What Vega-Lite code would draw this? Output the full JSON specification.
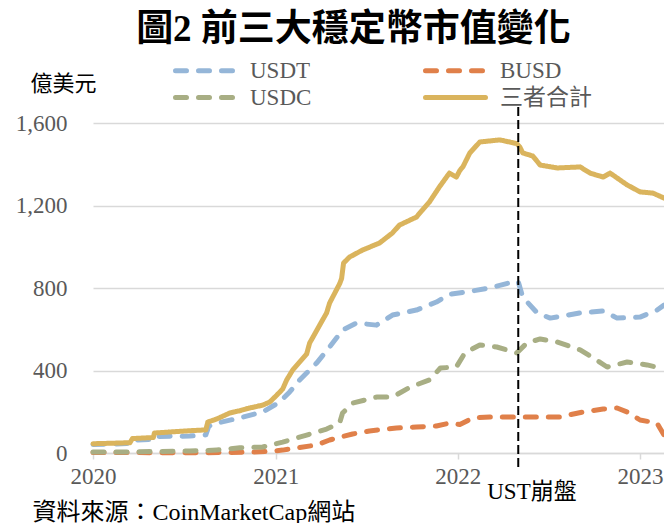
{
  "$schema": "https://vega.github.io/schema/vega-lite/v6.json",
  "width": 571,
  "height": 330,
  "autosize": "none",
  "padding": {"left": 93, "top": 123, "right": 0, "bottom": 70},
  "config": {
    "view": {"stroke": null},
    "font": "Liberation Serif, Noto Sans CJK TC",
    "legend": {
      "orient": "none",
      "legendX": 80,
      "legendY": -65,
      "columns": 2,
      "columnPadding": 103,
      "rowPadding": 2,
      "symbolType": "M-3,0H3",
      "symbolSize": 400,
      "symbolStrokeWidth": 5,
      "symbolOffset": 20,
      "labelFontSize": 23,
      "labelColor": "#595959",
      "labelOffset": 32,
      "labelFont": "Liberation Serif, Noto Sans CJK TC",
      "padding": 0
    }
  },
  "title": {
    "text": "圖2 前三大穩定幣市值變化",
    "fontSize": 37,
    "fontWeight": "bold",
    "color": "black",
    "font": "Liberation Serif, Noto Sans CJK TC",
    "anchor": "middle",
    "frame": "group",
    "dx": -25,
    "dy": -5
  },
  "layer": [
    {
      "data": {"values": [
        {"series":"BUSD","date":"2020-01-01","v":2},{"series":"BUSD","date":"2020-04-01","v":2},{"series":"BUSD","date":"2020-07-01","v":1},{"series":"BUSD","date":"2020-09-15","v":2},{"series":"BUSD","date":"2020-11-15","v":4},{"series":"BUSD","date":"2020-12-20","v":8},{"series":"BUSD","date":"2021-01-15","v":14},{"series":"BUSD","date":"2021-02-12","v":24},{"series":"BUSD","date":"2021-03-24","v":39},{"series":"BUSD","date":"2021-04-19","v":63},{"series":"BUSD","date":"2021-05-15","v":80},{"series":"BUSD","date":"2021-06-04","v":92},{"series":"BUSD","date":"2021-07-08","v":107},{"series":"BUSD","date":"2021-08-31","v":121},{"series":"BUSD","date":"2021-10-10","v":126},{"series":"BUSD","date":"2021-11-19","v":131},{"series":"BUSD","date":"2021-12-15","v":145},{"series":"BUSD","date":"2022-01-05","v":138},{"series":"BUSD","date":"2022-01-31","v":170},{"series":"BUSD","date":"2022-03-06","v":175},{"series":"BUSD","date":"2022-05-01","v":175},{"series":"BUSD","date":"2022-07-25","v":175},{"series":"BUSD","date":"2022-09-09","v":199},{"series":"BUSD","date":"2022-10-19","v":213},{"series":"BUSD","date":"2022-11-16","v":218},{"series":"BUSD","date":"2022-12-06","v":199},{"series":"BUSD","date":"2023-01-01","v":160},{"series":"BUSD","date":"2023-02-04","v":145},{"series":"BUSD","date":"2023-02-10","v":120},{"series":"BUSD","date":"2023-02-18","v":87},
        {"series":"USDC","date":"2020-01-01","v":5},{"series":"USDC","date":"2020-03-01","v":5},{"series":"USDC","date":"2020-05-01","v":7},{"series":"USDC","date":"2020-07-13","v":10},{"series":"USDC","date":"2020-08-18","v":12},{"series":"USDC","date":"2020-09-05","v":15},{"series":"USDC","date":"2020-10-21","v":25},{"series":"USDC","date":"2020-12-06","v":29},{"series":"USDC","date":"2020-12-14","v":34},{"series":"USDC","date":"2021-01-15","v":53},{"series":"USDC","date":"2021-03-04","v":87},{"series":"USDC","date":"2021-04-13","v":116},{"series":"USDC","date":"2021-05-09","v":145},{"series":"USDC","date":"2021-05-15","v":194},{"series":"USDC","date":"2021-06-04","v":242},{"series":"USDC","date":"2021-07-22","v":271},{"series":"USDC","date":"2021-08-23","v":271},{"series":"USDC","date":"2021-09-28","v":320},{"series":"USDC","date":"2021-11-05","v":354},{"series":"USDC","date":"2021-11-27","v":412},{"series":"USDC","date":"2021-12-29","v":417},{"series":"USDC","date":"2022-01-15","v":485},{"series":"USDC","date":"2022-02-14","v":524},{"series":"USDC","date":"2022-03-20","v":514},{"series":"USDC","date":"2022-04-29","v":485},{"series":"USDC","date":"2022-05-19","v":533},{"series":"USDC","date":"2022-06-15","v":553},{"series":"USDC","date":"2022-07-19","v":538},{"series":"USDC","date":"2022-09-03","v":500},{"series":"USDC","date":"2022-09-29","v":461},{"series":"USDC","date":"2022-10-27","v":417},{"series":"USDC","date":"2022-12-06","v":441},{"series":"USDC","date":"2023-01-15","v":427},{"series":"USDC","date":"2023-02-10","v":412},{"series":"USDC","date":"2023-02-18","v":420},
        {"series":"USDT","date":"2020-01-01","v":41},{"series":"USDT","date":"2020-02-03","v":43},{"series":"USDT","date":"2020-03-15","v":46},{"series":"USDT","date":"2020-03-22","v":62},{"series":"USDT","date":"2020-05-01","v":66},{"series":"USDT","date":"2020-05-05","v":80},{"series":"USDT","date":"2020-07-13","v":82},{"series":"USDT","date":"2020-08-14","v":88},{"series":"USDT","date":"2020-08-20","v":130},{"series":"USDT","date":"2020-09-05","v":145},{"series":"USDT","date":"2020-10-21","v":170},{"series":"USDT","date":"2020-12-06","v":199},{"series":"USDT","date":"2021-01-09","v":247},{"series":"USDT","date":"2021-01-29","v":296},{"series":"USDT","date":"2021-02-18","v":354},{"series":"USDT","date":"2021-03-24","v":436},{"series":"USDT","date":"2021-04-19","v":514},{"series":"USDT","date":"2021-05-15","v":596},{"series":"USDT","date":"2021-06-12","v":630},{"series":"USDT","date":"2021-07-22","v":620},{"series":"USDT","date":"2021-08-23","v":669},{"series":"USDT","date":"2021-10-10","v":693},{"series":"USDT","date":"2021-11-19","v":732},{"series":"USDT","date":"2021-12-15","v":770},{"series":"USDT","date":"2022-01-19","v":781},{"series":"USDT","date":"2022-03-06","v":800},{"series":"USDT","date":"2022-04-21","v":829},{"series":"USDT","date":"2022-05-02","v":830},{"series":"USDT","date":"2022-05-11","v":756},{"series":"USDT","date":"2022-06-09","v":679},{"series":"USDT","date":"2022-07-05","v":654},{"series":"USDT","date":"2022-09-03","v":679},{"series":"USDT","date":"2022-10-19","v":689},{"series":"USDT","date":"2022-11-16","v":654},{"series":"USDT","date":"2023-01-01","v":659},{"series":"USDT","date":"2023-02-04","v":693},{"series":"USDT","date":"2023-02-18","v":717},
        {"series":"三者合計","date":"2020-01-01","v":45},{"series":"三者合計","date":"2020-02-03","v":47},{"series":"三者合計","date":"2020-03-15","v":50},{"series":"三者合計","date":"2020-03-20","v":70},{"series":"三者合計","date":"2020-05-01","v":75},{"series":"三者合計","date":"2020-05-03","v":97},{"series":"三者合計","date":"2020-07-13","v":108},{"series":"三者合計","date":"2020-08-14","v":112},{"series":"三者合計","date":"2020-08-18","v":150},{"series":"三者合計","date":"2020-09-05","v":165},{"series":"三者合計","date":"2020-10-01","v":194},{"series":"三者合計","date":"2020-10-21","v":205},{"series":"三者合計","date":"2020-11-10","v":218},{"series":"三者合計","date":"2020-12-06","v":232},{"series":"三者合計","date":"2020-12-20","v":247},{"series":"三者合計","date":"2021-01-03","v":280},{"series":"三者合計","date":"2021-01-15","v":310},{"series":"三者合計","date":"2021-01-23","v":354},{"series":"三者合計","date":"2021-02-04","v":402},{"series":"三者合計","date":"2021-03-04","v":480},{"series":"三者合計","date":"2021-03-10","v":533},{"series":"三者合計","date":"2021-04-05","v":645},{"series":"三者合計","date":"2021-04-13","v":679},{"series":"三者合計","date":"2021-04-19","v":727},{"series":"三者合計","date":"2021-05-09","v":820},{"series":"三者合計","date":"2021-05-13","v":845},{"series":"三者合計","date":"2021-05-17","v":921},{"series":"三者合計","date":"2021-05-29","v":950},{"series":"三者合計","date":"2021-06-24","v":984},{"series":"三者合計","date":"2021-07-28","v":1018},{"series":"三者合計","date":"2021-08-23","v":1067},{"series":"三者合計","date":"2021-09-06","v":1105},{"series":"三者合計","date":"2021-10-10","v":1144},{"series":"三者合計","date":"2021-10-22","v":1178},{"series":"三者合計","date":"2021-11-05","v":1217},{"series":"三者合計","date":"2021-11-25","v":1290},{"series":"三者合計","date":"2021-12-15","v":1357},{"series":"三者合計","date":"2021-12-29","v":1338},{"series":"三者合計","date":"2022-01-05","v":1370},{"series":"三者合計","date":"2022-01-11","v":1387},{"series":"三者合計","date":"2022-01-25","v":1455},{"series":"三者合計","date":"2022-02-14","v":1508},{"series":"三者合計","date":"2022-03-26","v":1518},{"series":"三者合計","date":"2022-04-29","v":1500},{"series":"三者合計","date":"2022-05-05","v":1484},{"series":"三者合計","date":"2022-05-11","v":1455},{"series":"三者合計","date":"2022-05-31","v":1440},{"series":"三者合計","date":"2022-06-15","v":1396},{"series":"三者合計","date":"2022-07-19","v":1382},{"series":"三者合計","date":"2022-09-03","v":1387},{"series":"三者合計","date":"2022-09-23","v":1357},{"series":"三者合計","date":"2022-10-19","v":1338},{"series":"三者合計","date":"2022-11-02","v":1357},{"series":"三者合計","date":"2022-12-06","v":1300},{"series":"三者合計","date":"2023-01-01","v":1266},{"series":"三者合計","date":"2023-01-27","v":1260},{"series":"三者合計","date":"2023-02-18","v":1236}
      ]},
      "mark": {"type": "line", "strokeWidth": 5, "strokeCap": "round", "strokeJoin": "round"},
      "encoding": {
        "x": {
          "field": "date", "type": "temporal",
          "scale": {"domain": [{"year": 2020, "month": 1, "date": 1, "utc": true}, {"year": 2023, "month": 2, "date": 18, "utc": true}]},
          "axis": {
            "title": "資料來源：CoinMarketCap網站",
            "titleX": -61, "titleY": 59, "titleAlign": "left", "titleBaseline": "middle",
            "titleFontSize": 24, "titleFontWeight": "normal", "titleColor": "black",
            "titleFont": "Liberation Serif, Noto Sans CJK TC",
            "values": [{"year": 2020, "utc": true}, {"year": 2021, "utc": true}, {"year": 2022, "utc": true}, {"year": 2023, "utc": true}],
            "format": "%Y", "labelFlush": false, "labelOverlap": false,
            "labelFontSize": 23, "labelColor": "#595959", "labelPadding": 6,
            "labelFont": "Liberation Serif",
            "grid": false, "domainColor": "#d9d9d9", "domainWidth": 1.5,
            "tickColor": "#d9d9d9", "tickSize": 6, "tickWidth": 1.5
          }
        },
        "y": {
          "field": "v", "type": "quantitative",
          "scale": {"domain": [0, 1600]},
          "axis": {
            "title": "億美元", "titleAngle": 0, "titleX": -30, "titleY": -40,
            "titleAlign": "center", "titleBaseline": "middle",
            "titleFontSize": 22, "titleFontWeight": "normal", "titleColor": "black",
            "titleFont": "Noto Sans CJK TC",
            "values": [0, 400, 800, 1200, 1600], "format": ",d",
            "labelFontSize": 23, "labelColor": "#595959", "labelPadding": 26,
            "labelFont": "Liberation Serif",
            "ticks": false, "domain": false,
            "grid": true, "gridColor": "#d9d9d9", "gridWidth": 1.5
          }
        },
        "color": {
          "field": "series", "type": "nominal",
          "scale": {"domain": ["USDT", "USDC", "BUSD", "三者合計"], "range": ["#95b6d8", "#a8ae84", "#e0804a", "#dab45d"]},
          "legend": {"title": null, "encode": {"symbols": {"update": {"strokeCap": {"value": "round"}}}}}
        },
        "strokeDash": {
          "field": "series", "type": "nominal",
          "scale": {"domain": ["USDT", "USDC", "BUSD", "三者合計"], "range": [[11, 12], [11, 12], [11, 12], [1, 0]]},
          "legend": {"title": null}
        }
      }
    },
    {
      "data": {"values": [{"date": "2022-05-02", "lo": -68, "hi": 1690}]},
      "mark": {"type": "rule", "color": "black", "strokeWidth": 2, "strokeDash": [9, 4], "clip": false},
      "encoding": {
        "x": {"field": "date", "type": "temporal"},
        "y": {"field": "lo", "type": "quantitative", "scale": {"domain": [0, 1600]}},
        "y2": {"field": "hi"}
      }
    },
    {
      "data": {"values": [{"date": "2022-05-02", "label": "UST崩盤"}]},
      "mark": {"type": "text", "align": "left", "dx": -31, "baseline": "middle", "fontSize": 23, "color": "black", "font": "Liberation Serif, Noto Sans CJK TC"},
      "encoding": {
        "x": {"field": "date", "type": "temporal"},
        "y": {"datum": -190, "scale": {"domain": [0, 1600]}},
        "text": {"field": "label"}
      }
    }
  ]
}
